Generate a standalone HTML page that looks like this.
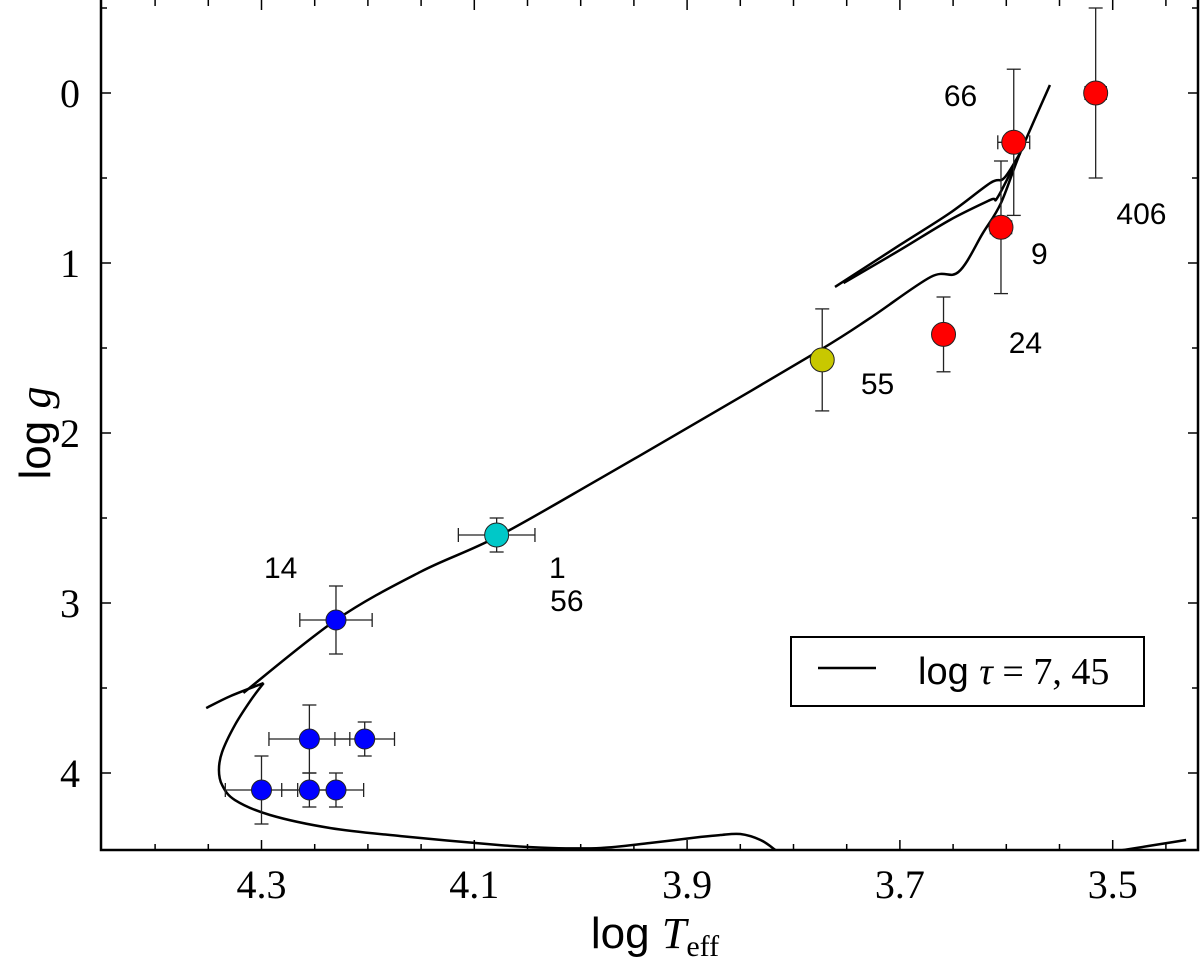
<!DOCTYPE html>
<html><head><meta charset="utf-8"><style>
body{margin:0;background:#fff;}
svg{display:block;font-family:"Liberation Sans",sans-serif;}
.serif{font-family:"Liberation Serif",serif;}
</style></head><body>
<svg id="chart" width="1200" height="961">
<g id="plot"></g>
</svg>
<script>
const xTicks=[4.3,4.1,3.9,3.7,3.5];
const xTickLabels=["4.3","4.1","3.9","3.7","3.5"];
const yTicks=[0,1,2,3,4];
const yTickLabels=["0","1","2","3","4"];
const starX=[4.30,4.255,4.230,4.255,4.203,4.230,4.079,3.773,3.659,3.605,3.593,3.516];
const starY=[4.10,4.10,4.10,3.80,3.80,3.10,2.60,1.57,1.42,0.79,0.29,0.00];
const starXErr=[0.034,0.026,0.026,0.038,0.028,0.034,0.036,0,0,0.01,0.015,0.01];
const starYErr=[0.2,0.1,0.1,0.2,0.1,0.2,0.1,0.3,0.22,0.39,0.43,0.5];
const starColor=["#0000ff","#0000ff","#0000ff","#0000ff","#0000ff","#0000ff","#00c8c8","#c8c800","#ff0000","#ff0000","#ff0000","#ff0000"];
const starR=[10,10,10,10,10,10,12,12,12,12,12,12];
const labelText=["14","1","56","55","24","9","406","66"];
const labelX=[4.282,4.022,4.013,3.721,3.582,3.569,3.473,3.643];
const labelY=[2.788,2.788,2.982,1.706,1.465,0.941,0.706,0.012];
// track segments (logTeff, logg)
const trackStartX=[4.352,4.329,4.298];
const trackStartY=[3.618,3.547,3.471];
const trackMainX=[4.317,4.230,4.151,4.079,3.981,3.887,3.775,3.728,3.671,3.645,3.622,3.605,3.587,3.559];
const trackMainY=[3.529,3.100,2.818,2.612,2.265,1.924,1.512,1.324,1.082,1.053,0.824,0.647,0.353,-0.047];
const trackHookX=[4.298,4.310,4.325,4.337,4.340,4.337,4.325,4.292,4.235,4.169,4.076,4.028,3.981,3.935,3.887,3.869,3.850,3.831,3.817];
const trackHookY=[3.471,3.571,3.718,3.876,3.982,4.071,4.159,4.247,4.324,4.371,4.424,4.441,4.441,4.412,4.376,4.365,4.359,4.394,4.453];
const trackTailX=[3.502,3.431];
const trackTailY=[4.465,4.394];
const loopAX=[3.761,3.700,3.653,3.615,3.602,3.587];
const loopAY=[1.141,0.894,0.706,0.529,0.500,0.353];
const loopBX=[3.753,3.700,3.653,3.615,3.608,3.587];
const loopBY=[1.118,0.924,0.747,0.629,0.612,0.353];

const L=101,R=1198,T=0,B=850;
const xs=v=>261.5+(4.3-v)*1064;
const ys=v=>93+v*170;
const NS="http://www.w3.org/2000/svg";
const g=document.getElementById('plot');
function mk(tag,attrs,parent){const e=document.createElementNS(NS,tag);for(const k in attrs)e.setAttribute(k,attrs[k]);(parent||g).appendChild(e);return e;}

const clip=mk('clipPath',{id:'pc'});mk('rect',{x:L,y:T,width:R-L,height:B-T},clip);

for(let k=0;k<=22;k++){const v=4.45-k*0.05;const x=xs(v);if(x<L+2||x>R-2)continue;const major=xTicks.some(t=>Math.abs(t-v)<1e-6);const len=major?10:6;
 const t1=mk('line',{x1:x,x2:x,y1:B,y2:B-len,stroke:'#000','stroke-width':1.5});
 
 
 const t2=mk('line',{x1:x,x2:x,y1:T,y2:T+len,stroke:'#000','stroke-width':1.5});
 
 }
xTicks.forEach((v,i)=>{const t=mk('text',{x:xs(v),y:898,'text-anchor':'middle','font-size':40,class:'serif'});t.textContent=xTickLabels[i];
 
 });
for(let k=0;k<=10;k++){const v=-0.5+k*0.5;const y=ys(v);if(y<T+2||y>B-2)continue;const major=k%2===1;const len=major?10:6;
 const t1=mk('line',{x1:L,x2:L+len,y1:y,y2:y,stroke:'#000','stroke-width':1.5});
 
 
 const t2=mk('line',{x1:R,x2:R-len,y1:y,y2:y,stroke:'#000','stroke-width':1.5});
 
 }
yTicks.forEach((v,i)=>{const t=mk('text',{x:80,y:ys(v)+14,'text-anchor':'end','font-size':40,class:'serif'});t.textContent=yTickLabels[i];
 
 });

function smooth(xa,ya,name){const P=xa.map((x,i)=>[xs(x),ys(ya[i])]);let d='M'+P[0][0]+','+P[0][1];
 for(let i=0;i<P.length-1;i++){const p0=P[Math.max(0,i-1)],p1=P[i],p2=P[i+1],p3=P[Math.min(P.length-1,i+2)];
  const c1=[p1[0]+(p2[0]-p0[0])/6,p1[1]+(p2[1]-p0[1])/6],c2=[p2[0]-(p3[0]-p1[0])/6,p2[1]-(p3[1]-p1[1])/6];
  d+=' C'+c1[0]+','+c1[1]+' '+c2[0]+','+c2[1]+' '+p2[0]+','+p2[1];}
 const p=mk('path',{d:d,fill:'none',stroke:'#000','stroke-width':2.5,'stroke-linejoin':'round','clip-path':'url(#pc)'});
 
 }
smooth(trackStartX,trackStartY,'isochrone-start');
smooth(trackMainX,trackMainY,'isochrone-main');
smooth(trackHookX,trackHookY,'isochrone-hook');
smooth(trackTailX,trackTailY,'isochrone-tail');
smooth(loopAX,loopAY,'isochrone-loop-a');
smooth(loopBX,loopBY,'isochrone-loop-b');

starX.forEach((sx,i)=>{const cx=xs(sx),cy=ys(starY[i]);const eb=mk('g',{stroke:'#222','stroke-width':1.3});
 
 
 const y1=ys(starY[i]-starYErr[i]),y2=ys(starY[i]+starYErr[i]);
 mk('line',{x1:cx,x2:cx,y1:y1,y2:y2},eb);mk('line',{x1:cx-7,x2:cx+7,y1:y1,y2:y1},eb);mk('line',{x1:cx-7,x2:cx+7,y1:y2,y2:y2},eb);
 if(starXErr[i]>0){const x1=xs(sx+starXErr[i]),x2=xs(sx-starXErr[i]);
  mk('line',{x1:x1,x2:x2,y1:cy,y2:cy},eb);mk('line',{x1:x1,x2:x1,y1:cy-7,y2:cy+7},eb);mk('line',{x1:x2,x2:x2,y1:cy-7,y2:cy+7},eb);}
});
starX.forEach((sx,i)=>{const c=mk('circle',{cx:xs(sx),cy:ys(starY[i]),r:starR[i],fill:starColor[i],stroke:'#222','stroke-width':1});
 
 });
labelText.forEach((s,i)=>{const t=mk('text',{x:xs(labelX[i]),y:ys(labelY[i])+11,'text-anchor':'middle','font-size':30});t.textContent=s;
 
 });

const fr=mk('rect',{x:L,y:T-2,width:R-L,height:B-T+2,fill:'none',stroke:'#000','stroke-width':2.5});



const lg=mk('g',{});


mk('rect',{x:791,y:637,width:353,height:69,fill:'#fff',stroke:'#000','stroke-width':2},lg);
mk('line',{x1:818,x2:876,y1:668,y2:668,stroke:'#000','stroke-width':2.5},lg);
const lt=mk('text',{x:918,y:684,'font-size':38},lg);
lt.innerHTML='log <tspan class="serif" font-style="italic">τ</tspan><tspan class="serif"> = 7, 45</tspan>';

const xt=mk('text',{x:655,y:948,'text-anchor':'middle','font-size':44});
xt.innerHTML='log <tspan class="serif" font-style="italic">T</tspan><tspan class="serif" font-size="30" dy="8">eff</tspan>';


const yt=mk('text',{x:0,y:0,'text-anchor':'middle','font-size':44,transform:'translate(50,433) rotate(-90)'});
yt.innerHTML='log <tspan class="serif" font-style="italic">g</tspan>';


</script>
</body></html>
